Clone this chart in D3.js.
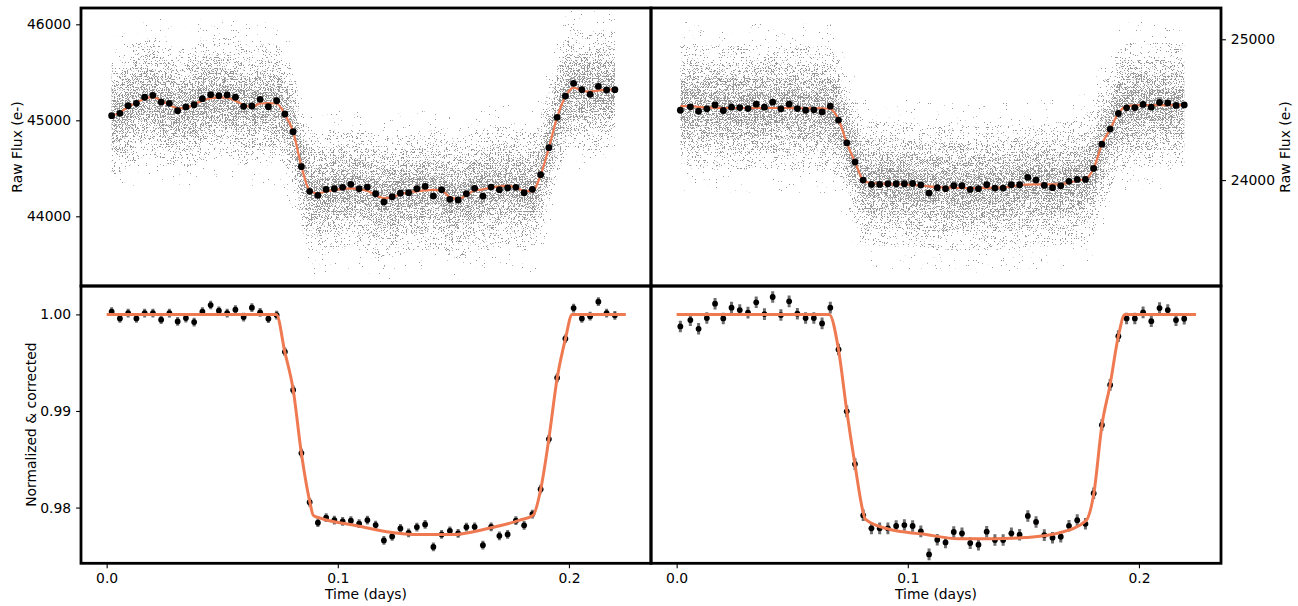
<!DOCTYPE html>
<html>
<head>
<meta charset="utf-8">
<script src="https://cdnjs.cloudflare.com/ajax/libs/d3/7.8.5/d3.min.js"></script>
<style>
    body { margin: 0; background: #fff; }
    text { font-family: 'DejaVu Sans', sans-serif; }
</style>
</head>
<body>
<div id="chart"></div>
<script>
// bin centres (days)
const binTimeL = [
    0.00216, 0.00573, 0.00930, 0.01287, 0.01644, 0.02001, 0.02357, 0.02714, 0.03071, 0.03428,
    0.03785, 0.04142, 0.04499, 0.04856, 0.05213, 0.05570, 0.05926, 0.06283, 0.06640, 0.06997,
    0.07354, 0.07711, 0.08068, 0.08425, 0.08782, 0.09139, 0.09495, 0.09852, 0.10209, 0.10566,
    0.10923, 0.11280, 0.11637, 0.11994, 0.12351, 0.12708, 0.13064, 0.13421, 0.13778, 0.14135,
    0.14492, 0.14849, 0.15206, 0.15563, 0.15920, 0.16277, 0.16633, 0.16990, 0.17347, 0.17704,
    0.18061, 0.18418, 0.18775, 0.19132, 0.19489, 0.19846, 0.20202, 0.20559, 0.20916, 0.21273,
    0.21630, 0.21987,
];
const binTimeR = [
    0.00160, 0.00593, 0.00949, 0.01305, 0.01661, 0.02017, 0.02374, 0.02730, 0.03086, 0.03442,
    0.03798, 0.04154, 0.04510, 0.04866, 0.05222, 0.05578, 0.05935, 0.06291, 0.06647, 0.07003,
    0.07359, 0.07715, 0.08071, 0.08427, 0.08783, 0.09139, 0.09496, 0.09852, 0.10208, 0.10564,
    0.10920, 0.11276, 0.11632, 0.11988, 0.12344, 0.12700, 0.13057, 0.13413, 0.13769, 0.14125,
    0.14481, 0.14837, 0.15193, 0.15549, 0.15905, 0.16261, 0.16618, 0.16974, 0.17330, 0.17686,
    0.18042, 0.18398, 0.18754, 0.19110, 0.19466, 0.19822, 0.20179, 0.20535, 0.20891, 0.21247,
    0.21603, 0.21959,
];

// raw flux, binned (e-)
const rawBinL = [
    45048, 45073, 45152, 45177, 45240, 45260, 45190, 45177, 45100, 45139,
    45163, 45225, 45267, 45256, 45264, 45240, 45146, 45149, 45219, 45142,
    45204, 45066, 44881, 44517, 44260, 44219, 44280, 44288, 44302, 44333,
    44288, 44305, 44235, 44149, 44204, 44240, 44246, 44288, 44312, 44211,
    44277, 44177, 44170, 44235, 44292, 44211, 44305, 44277, 44295, 44302,
    44246, 44281, 44434, 44715, 45031, 45253, 45385, 45319, 45271, 45354,
    45316, 45319,
];
const rawModelL = [
    45050, 45080, 45140, 45185, 45225, 45245, 45205, 45160, 45125, 45130,
    45165, 45205, 45230, 45240, 45235, 45205, 45160, 45140, 45175, 45180,
    45175, 45060, 44880, 44520, 44270, 44240, 44260, 44275, 44285, 44290,
    44280, 44265, 44220, 44190, 44200, 44230, 44250, 44260, 44270, 44275,
    44270, 44200, 44180, 44220, 44270, 44280, 44300, 44310, 44320, 44300,
    44265, 44260, 44430, 44715, 45030, 45245, 45340, 45310, 45300, 45310,
    45320, 45320,
];
const rawBinR = [
    24496, 24520, 24489, 24506, 24534, 24494, 24518, 24515, 24508, 24539,
    24518, 24553, 24506, 24539, 24508, 24496, 24499, 24484, 24525, 24426,
    24265, 24128, 24000, 23969, 23969, 23974, 23974, 23974, 23976, 23965,
    23908, 23946, 23939, 23960, 23960, 23934, 23939, 23967, 23943, 23943,
    23967, 23967, 24019, 24000, 23962, 23946, 23960, 23991, 24005, 24005,
    24083, 24255, 24362, 24473, 24513, 24515, 24537, 24518, 24551, 24548,
    24530, 24534,
];
const rawModelR = [
    24525, 24525, 24520, 24515, 24515, 24512, 24512, 24512, 24512, 24512,
    24512, 24512, 24512, 24512, 24510, 24510, 24510, 24510, 24505, 24430,
    24265, 24130, 24000, 23977, 23975, 23972, 23970, 23968, 23966, 23962,
    23955, 23950, 23948, 23946, 23944, 23944, 23944, 23945, 23946, 23948,
    23955, 23965, 23968, 23969, 23969, 23969, 23970, 23981, 23997, 24010,
    24083, 24255, 24362, 24473, 24525, 24530, 24533, 24533, 24533, 24533,
    24533, 24533,
];

// spread of the unbinned points around the model (e-), inner to outer
const cloudSpreadL = [150, 300, 450, 620, 850];
const cloudSpreadR = [110, 215, 320, 440, 600];

// normalized & corrected, binned
const corrBinL = [
    1.00028, 0.99958, 1.00014, 0.99958, 1.00014, 1.00014, 0.99945, 1.00014, 0.99927, 0.99962,
    0.99920, 1.00028, 1.00097, 1.00038, 1.00014, 1.00049, 0.99972, 1.00070, 1.00021, 0.99955,
    0.99993, 0.99613, 0.99218, 0.98564, 0.98055, 0.97843, 0.97895, 0.97871, 0.97857, 0.97864,
    0.97833, 0.97871, 0.97819, 0.97660, 0.97701, 0.97784, 0.97739, 0.97798, 0.97826, 0.97593,
    0.97722, 0.97759, 0.97732, 0.97798, 0.97801, 0.97611, 0.97801, 0.97707, 0.97722, 0.97864,
    0.97816, 0.97933, 0.98190, 0.98709, 0.99343, 0.99748, 1.00065, 0.99958, 0.99982, 1.00132,
    1.00014, 0.99990,
];
const corrBinR = [
    0.99875, 0.99941, 0.99851, 0.99962, 1.00111, 0.99958, 1.00070, 1.00045, 1.00018, 1.00125,
    1.00003, 1.00180, 0.99993, 1.00135, 1.00007, 0.99962, 0.99962, 0.99907, 1.00070, 0.99637,
    0.98996, 0.98450, 0.97920, 0.97785, 0.97785, 0.97785, 0.97809, 0.97819, 0.97809, 0.97754,
    0.97515, 0.97667, 0.97639, 0.97747, 0.97733, 0.97632, 0.97616, 0.97750, 0.97664, 0.97664,
    0.97733, 0.97719, 0.97913, 0.97851, 0.97715, 0.97688, 0.97698, 0.97811, 0.97870, 0.97832,
    0.98149, 0.98855, 0.99270, 0.99775, 0.99958, 0.99958, 1.00021, 0.99930, 1.00065, 1.00045,
    0.99941, 0.99955,
];
const corrErrL = 0.00045;
const corrErrR = 0.0006;

// transit model
const corrModelTimeL = [
    0.0, 0.0734, 0.0771, 0.0807, 0.0842, 0.0878, 0.0894, 0.0924, 0.1067, 0.1211, 0.1355,
    0.1499, 0.1644, 0.1788, 0.1845, 0.1878, 0.1913, 0.1949, 0.1985, 0.2014, 0.2246,
];
const corrModelL = [
    1.0, 1.0, 0.9961, 0.9922, 0.9857, 0.9807, 0.9792, 0.9789, 0.9782, 0.9775, 0.9772,
    0.9772, 0.9778, 0.9787, 0.9792, 0.9819, 0.9871, 0.9934, 0.9975, 1.0, 1.0,
];
const corrModelTimeR = [
    0.0, 0.0660, 0.0700, 0.0736, 0.0771, 0.0807, 0.0816, 0.0919, 0.1064, 0.1223,
    0.1367, 0.1511, 0.1655, 0.1771, 0.1805, 0.1840, 0.1875, 0.1911, 0.1939, 0.2247,
];
const corrModelR = [
    1.0, 1.0, 0.9964, 0.9900, 0.9845, 0.9795, 0.9788, 0.97775, 0.97726, 0.97677,
    0.97677, 0.9769, 0.97738, 0.97864, 0.98149, 0.98855, 0.9927, 0.99775, 1.0, 1.0,
];

const xTicks = [0.0, 0.1, 0.2];
const rawTicksL = [44000, 45000, 46000];
const rawTicksR = [24000, 25000];
const corrTicks = [0.98, 0.99, 1.00];

const width = 1298;
const height = 606;
const orange = '#ef7a52';
const fontSize = 13.9;

const svg = d3.select('#chart')
    .append('svg')
    .attr('width', width)
    .attr('height', height);

const defs = svg.append('defs');

// speckle texture for the unbinned cloud, one filter per band (inner to outer)
const speckleThr = [0.57, 0.59, 0.615, 0.65, 0.715];
const speckle = (id, seed, thr) => {
    const f = defs.append('filter')
        .attr('id', id)
        .attr('x', '-2%')
        .attr('y', '-2%')
        .attr('width', '104%')
        .attr('height', '104%')
        .attr('color-interpolation-filters', 'sRGB');
    f.append('feTurbulence')
        .attr('type', 'fractalNoise')
        .attr('baseFrequency', 1.37)
        .attr('numOctaves', 1)
        .attr('seed', seed)
        .attr('result', 'n');
    f.append('feColorMatrix')
        .attr('in', 'n')
        .attr('type', 'matrix')
        .attr('values', `0 0 0 0 0  0 0 0 0 0  0 0 0 0 0  40 0 0 0 ${-40 * thr}`)
        .attr('result', 'm');
    f.append('feFlood')
        .attr('flood-color', '#959595')
        .attr('result', 'c');
    f.append('feComposite')
        .attr('in', 'c')
        .attr('in2', 'm')
        .attr('operator', 'in')
        .attr('result', 'd');
    f.append('feComposite')
        .attr('in', 'd')
        .attr('in2', 'SourceAlpha')
        .attr('operator', 'in');
};
speckleThr.forEach((thr, i) => speckle('spk-' + i, 5 + i * 7, thr));

const x0 = 81;
const xm = 651;
const x1 = 1221;
const y0 = 8;
const ym = 286;
const y1 = 563.3;
const xDomain = [-0.0111, 0.2355];

const panels = [
    {key: 'tl', left: x0, right: xm, top: y0, bottom: ym, yDomain: [43274, 46170]},
    {key: 'tr', left: xm, right: x1, top: y0, bottom: ym, yDomain: [23248, 25222]},
    {key: 'bl', left: x0, right: xm, top: ym, bottom: y1, yDomain: [0.97423, 1.00294]},
    {key: 'br', left: xm, right: x1, top: ym, bottom: y1, yDomain: [0.97423, 1.00294]},
];

panels.forEach((p) => {
    p.x = d3.scaleLinear().domain(xDomain).range([p.left, p.right]);
    p.y = d3.scaleLinear().domain(p.yDomain).range([p.bottom, p.top]);
    defs.append('clipPath')
        .attr('id', 'clip-' + p.key)
        .append('rect')
        .attr('x', p.left)
        .attr('y', p.top)
        .attr('width', p.right - p.left)
        .attr('height', p.bottom - p.top);
    p.g = svg.append('g').attr('clip-path', 'url(#clip-' + p.key + ')');
});

const drawRaw = (p, times, bins, model, spread) => {
    const rows = times.map((t, i) => ({t: t, v: bins[i], m: model[i]}));
    spread.forEach((s, i) => {
        const band = d3.area()
            .curve(d3.curveMonotoneX)
            .x((d) => p.x(d.t))
            .y0((d) => p.y(d.m - s))
            .y1((d) => p.y(d.m + s));
        p.g.append('path')
            .datum(rows)
            .attr('d', band)
            .attr('fill', '#000')
            .attr('filter', 'url(#spk-' + i + ')');
    });

    const line = d3.line()
        .curve(d3.curveMonotoneX)
        .x((d) => p.x(d.t))
        .y((d) => p.y(d.m));
    p.g.append('path')
        .datum(rows)
        .attr('d', line)
        .attr('fill', 'none')
        .attr('stroke', orange)
        .attr('stroke-width', 2.2);

    p.g.selectAll('.bin')
        .data(rows)
        .enter()
        .append('circle')
        .attr('cx', (d) => p.x(d.t))
        .attr('cy', (d) => p.y(d.v))
        .attr('r', 3.4)
        .attr('fill', '#000');
};

const drawCorr = (p, times, bins, err, mTimes, model) => {
    const rows = times.map((t, i) => ({t: t, v: bins[i]}));
    p.g.selectAll('.err')
        .data(rows)
        .enter()
        .append('line')
        .attr('x1', (d) => p.x(d.t))
        .attr('x2', (d) => p.x(d.t))
        .attr('y1', (d) => p.y(d.v - err))
        .attr('y2', (d) => p.y(d.v + err))
        .attr('stroke', '#6e6e6e')
        .attr('stroke-width', 3);
    p.g.selectAll('.bin')
        .data(rows)
        .enter()
        .append('circle')
        .attr('cx', (d) => p.x(d.t))
        .attr('cy', (d) => p.y(d.v))
        .attr('r', 2.9)
        .attr('fill', '#000');

    const line = d3.line()
        .curve(d3.curveMonotoneX)
        .x((d) => p.x(d[0]))
        .y((d) => p.y(d[1]));
    p.g.append('path')
        .datum(mTimes.map((t, i) => [t, model[i]]))
        .attr('d', line)
        .attr('fill', 'none')
        .attr('stroke', orange)
        .attr('stroke-width', 3);
};

drawRaw(panels[0], binTimeL, rawBinL, rawModelL, cloudSpreadL);
drawRaw(panels[1], binTimeR, rawBinR, rawModelR, cloudSpreadR);
drawCorr(panels[2], binTimeL, corrBinL, corrErrL, corrModelTimeL, corrModelL);
drawCorr(panels[3], binTimeR, corrBinR, corrErrR, corrModelTimeR, corrModelR);

// axes
const styleAxis = (g) => {
    g.select('.domain').remove();
    g.selectAll('.tick line').attr('stroke', '#000').attr('stroke-width', 1.1);
    g.selectAll('.tick text')
        .attr('fill', '#000')
        .style('font-size', fontSize + 'px')
        .style('font-family', "'DejaVu Sans', sans-serif");
};

svg.append('g')
    .attr('transform', 'translate(' + x0 + ',0)')
    .call(d3.axisLeft(panels[0].y).tickValues(rawTicksL).tickFormat(d3.format('d'))
        .tickSize(4.9).tickPadding(4.9))
    .call(styleAxis);

svg.append('g')
    .attr('transform', 'translate(' + x1 + ',0)')
    .call(d3.axisRight(panels[1].y).tickValues(rawTicksR).tickFormat(d3.format('d'))
        .tickSize(4.9).tickPadding(4.9))
    .call(styleAxis);

svg.append('g')
    .attr('transform', 'translate(' + x0 + ',0)')
    .call(d3.axisLeft(panels[2].y).tickValues(corrTicks).tickFormat(d3.format('.2f'))
        .tickSize(4.9).tickPadding(4.9))
    .call(styleAxis);

[panels[2], panels[3]].forEach((p) => {
    svg.append('g')
        .attr('transform', 'translate(0,' + y1 + ')')
        .call(d3.axisBottom(p.x).tickValues(xTicks).tickFormat(d3.format('.1f'))
            .tickSize(4.9).tickPadding(4.9))
        .call(styleAxis);
    svg.append('text')
        .attr('x', (p.left + p.right) / 2)
        .attr('y', 599)
        .attr('text-anchor', 'middle')
        .style('font-size', fontSize + 'px')
        .text('Time (days)');
});

const yLabel = (cx, cy, txt) => {
    svg.append('text')
        .attr('transform', 'translate(' + cx + ',' + cy + ') rotate(-90)')
        .attr('text-anchor', 'middle')
        .attr('dy', '0.35em')
        .style('font-size', fontSize + 'px')
        .text(txt);
};
yLabel(16.7, (y0 + ym) / 2, 'Raw Flux (e-)');
yLabel(30.7, (ym + y1) / 2, 'Normalized & corrected');
yLabel(1285, (y0 + ym) / 2, 'Raw Flux (e-)');

// frames
panels.forEach((p) => {
    svg.append('rect')
        .attr('x', p.left)
        .attr('y', p.top)
        .attr('width', p.right - p.left)
        .attr('height', p.bottom - p.top)
        .attr('fill', 'none')
        .attr('stroke', '#000')
        .attr('stroke-width', 2.8);
});
</script>
</body>
</html>
